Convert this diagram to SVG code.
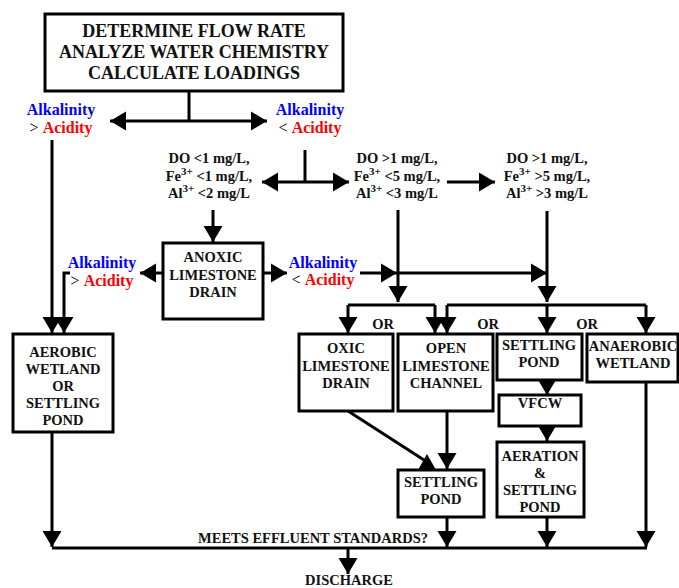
<svg xmlns="http://www.w3.org/2000/svg" width="679" height="588" viewBox="0 0 679 588">
<defs>
<style>
.t{font-family:"Liberation Serif","Times New Roman",serif;font-weight:bold;font-size:14.5px;text-anchor:middle;fill:#111}
.title{font-size:18px}
.c{font-size:16px}
.alk{fill:#0000ff}
.acid{fill:#ff0000}
.gt{font-weight:normal;fill:#000}
.sup{font-size:11px}
.box{fill:#fff;stroke:#000;stroke-width:3}
.ln{stroke:#000;stroke-width:3;fill:none}
.arr{marker-end:url(#ah)}
</style>
<marker id="ah" markerUnits="userSpaceOnUse" markerWidth="17" markerHeight="20" refX="16" refY="10" orient="auto" viewBox="0 0 17 20">
<path d="M0,0.5 L16,10 L0,19.5 z" fill="#000"/>
</marker>
</defs>
<rect width="679" height="588" fill="#fff"/>

<g id="connectors">
<path class="ln" d="M189,92 V121"/>
<path class="ln arr" d="M189,121 H110"/>
<path class="ln arr" d="M189,121 H267"/>
<path class="ln arr" d="M52,140 V333"/>
<path class="ln" d="M305,150 V182"/>
<path class="ln arr" d="M305,182 H262"/>
<path class="ln arr" d="M305,182 H349"/>
<path class="ln arr" d="M447,182 H495"/>
<path class="ln arr" d="M213,210 V242"/>
<path class="ln arr" d="M163,273 H140"/>
<path class="ln arr" d="M70,273 H64 V333"/>
<path class="ln arr" d="M263,273 H287"/>
<path class="ln arr" d="M360,273 H397"/>
<path class="ln arr" d="M397,273 H547"/>
<path class="ln arr" d="M398,210 V302"/>
<path class="ln arr" d="M547,211 V302"/>
<path class="ln" d="M348,305 H435"/>
<path class="ln" d="M447,305 H646"/>
<path class="ln arr" d="M348,305 V333"/>
<path class="ln arr" d="M435,305 V333"/>
<path class="ln arr" d="M447,305 V333"/>
<path class="ln arr" d="M547,305 V333"/>
<path class="ln arr" d="M646,305 V333"/>
<path class="ln arr" d="M547,380 V395"/>
<path class="ln arr" d="M547,426 V441"/>
<path class="ln arr" d="M547,517 V547"/>
<path class="ln arr" d="M646,382 V547"/>
<path class="ln" d="M348,411 L424,460"/>
<polygon points="427,454 418,470 436,470" fill="#000"/>
<path class="ln arr" d="M447,411 V469"/>
<path class="ln arr" d="M447,517 V547"/>
<path class="ln arr" d="M52,432 V547"/>
<path class="ln" d="M52,548 H647"/>
<path class="ln arr" d="M348,548 V574"/>
</g>

<g id="start">
<rect class="box" x="45" y="14" width="298" height="77"/>
<text class="t title" x="194" y="37">DETERMINE FLOW RATE</text>
<text class="t title" x="194" y="58">ANALYZE WATER CHEMISTRY</text>
<text class="t title" x="194" y="79">CALCULATE LOADINGS</text>
</g>

<g id="alk-gt-acid-1">
<text class="t c alk" x="61" y="115">Alkalinity</text>
<text class="t c" x="61" y="133"><tspan class="gt">&gt; </tspan><tspan class="acid">Acidity</tspan></text>
</g>

<g id="alk-lt-acid-1">
<text class="t c alk" x="310" y="115">Alkalinity</text>
<text class="t c" x="310" y="133"><tspan class="gt">&lt; </tspan><tspan class="acid">Acidity</tspan></text>
</g>

<g id="do-low">
<text class="t" x="209" y="163">DO &lt;1 mg/L,</text>
<text class="t" x="209" y="180.5">Fe<tspan class="sup" dy="-6">3+</tspan><tspan dy="6"> &lt;1 mg/L,</tspan></text>
<text class="t" x="209" y="198">Al<tspan class="sup" dy="-6">3+</tspan><tspan dy="6"> &lt;2 mg/L</tspan></text>
</g>

<g id="do-mid">
<text class="t" x="397" y="163">DO &gt;1 mg/L,</text>
<text class="t" x="397" y="180.5">Fe<tspan class="sup" dy="-6">3+</tspan><tspan dy="6"> &lt;5 mg/L,</tspan></text>
<text class="t" x="397" y="198">Al<tspan class="sup" dy="-6">3+</tspan><tspan dy="6"> &lt;3 mg/L</tspan></text>
</g>

<g id="do-high">
<text class="t" x="547" y="163">DO &gt;1 mg/L,</text>
<text class="t" x="547" y="180.5">Fe<tspan class="sup" dy="-6">3+</tspan><tspan dy="6"> &gt;5 mg/L,</tspan></text>
<text class="t" x="547" y="198">Al<tspan class="sup" dy="-6">3+</tspan><tspan dy="6"> &gt;3 mg/L</tspan></text>
</g>

<g id="anoxic">
<rect class="box" x="163" y="243" width="100" height="76"/>
<text class="t" x="213" y="262">ANOXIC</text>
<text class="t" x="213" y="280">LIMESTONE</text>
<text class="t" x="213" y="297">DRAIN</text>
</g>

<g id="alk-gt-acid-2">
<text class="t c alk" x="102" y="268">Alkalinity</text>
<text class="t c" x="102" y="286"><tspan class="gt">&gt; </tspan><tspan class="acid">Acidity</tspan></text>
</g>

<g id="alk-lt-acid-2">
<text class="t c alk" x="323" y="268">Alkalinity</text>
<text class="t c" x="323" y="285"><tspan class="gt">&lt; </tspan><tspan class="acid">Acidity</tspan></text>
</g>

<g id="or-labels">
<text class="t" x="383" y="329">OR</text>
<text class="t" x="488" y="329">OR</text>
<text class="t" x="587" y="329">OR</text>
</g>

<g id="aerobic">
<rect class="box" x="13" y="334" width="100" height="98"/>
<text class="t" x="63" y="357">AEROBIC</text>
<text class="t" x="63" y="374">WETLAND</text>
<text class="t" x="63" y="391">OR</text>
<text class="t" x="63" y="408">SETTLING</text>
<text class="t" x="63" y="425">POND</text>
</g>

<g id="oxic">
<rect class="box" x="299" y="334" width="94" height="77"/>
<text class="t" x="346" y="353">OXIC</text>
<text class="t" x="346" y="371">LIMESTONE</text>
<text class="t" x="346" y="388">DRAIN</text>
</g>

<g id="open-channel">
<rect class="box" x="398" y="334" width="95" height="77"/>
<text class="t" x="446" y="353">OPEN</text>
<text class="t" x="446" y="371">LIMESTONE</text>
<text class="t" x="446" y="388">CHANNEL</text>
</g>

<g id="settling-pond-1">
<rect class="box" x="497" y="334" width="85" height="46"/>
<text class="t" x="539" y="350">SETTLING</text>
<text class="t" x="539" y="367">POND</text>
</g>

<g id="anaerobic">
<rect class="box" x="587" y="334" width="91" height="48"/>
<text class="t" x="633" y="351">ANAEROBIC</text>
<text class="t" x="633" y="368">WETLAND</text>
</g>

<g id="vfcw">
<rect class="box" x="499" y="395" width="82" height="31"/>
<text class="t" x="540" y="408">VFCW</text>
</g>

<g id="aeration">
<rect class="box" x="497" y="442" width="87" height="75"/>
<text class="t" x="540" y="461">AERATION</text>
<text class="t" x="540" y="478">&amp;</text>
<text class="t" x="540" y="495">SETTLING</text>
<text class="t" x="540" y="512">POND</text>
</g>

<g id="settling-pond-2">
<rect class="box" x="398" y="470" width="86" height="47"/>
<text class="t" x="441" y="487">SETTLING</text>
<text class="t" x="441" y="504">POND</text>
</g>

<g id="effluent">
<text class="t" x="313" y="543">MEETS EFFLUENT STANDARDS?</text>
</g>

<g id="discharge">
<text class="t" x="349" y="585">DISCHARGE</text>
</g>
</svg>
